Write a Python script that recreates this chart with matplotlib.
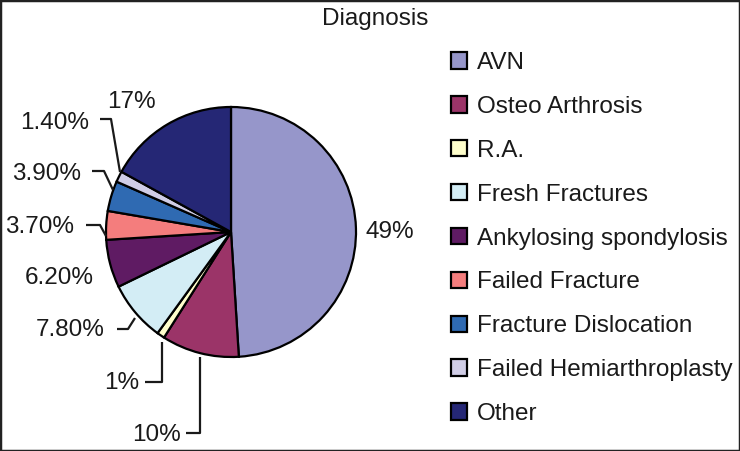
import matplotlib
matplotlib.use("Agg")
import matplotlib.pyplot as plt
from matplotlib.patches import Rectangle

plt.rcParams['font.family'] = ['Liberation Sans', 'DejaVu Sans']

title = "Diagnosis"
categories = ["AVN", "Osteo Arthrosis", "R.A.", "Fresh Fractures",
              "Ankylosing spondylosis", "Failed Fracture", "Fracture Dislocation",
              "Failed Hemiarthroplasty", "Other"]
values = [49, 10, 1, 7.8, 6.2, 3.7, 3.9, 1.4, 17]
value_labels = ["49%", "10%", "1%", "7.80%", "6.20%", "3.70%", "3.90%", "1.40%", "17%"]
colors = ["#9696CA", "#9B3468", "#FFFFCC", "#D3EDF5", "#5F1B63",
          "#F47D7D", "#2F6AB2", "#D0CDE6", "#252775"]

W, H = 740, 451
fig = plt.figure(figsize=(W / 100, H / 100), dpi=100)
ax = fig.add_axes([0, 0, 1, 1])

def py(y):
    return H - y

cx, cy, R = 231, 232, 125
wedges, _ = ax.pie(values, colors=colors, startangle=90, counterclock=False,
                   center=(cx, py(cy)), radius=R, frame=True,
                   wedgeprops=dict(edgecolor='black', linewidth=1.6))
ax.set_xlim(0, W)
ax.set_ylim(0, H)
ax.axis('off')

fs = 17.5
tc = '#1a1a1a'
# label placement: (text x, text y, ha, leader elbow points or None, end point or None)
label_layout = [
    (365, 232, 'left', None, None),
    (181, 435, 'right', [(186, 433), (200, 433)], (200, 357)),
    (139, 383, 'right', [(145, 382), (162, 382)], (162, 342)),
    (105, 330, 'right', [(117, 329), (128, 329)], (135, 318)),
    (94, 278, 'right', None, None),
    (74, 227, 'right', [(86, 225), (100, 225)], (106, 236)),
    (81, 174, 'right', [(92, 171), (104, 171)], (113, 190)),
    (89, 123, 'right', [(100, 119), (111, 119)], (120, 172)),
    (156, 102, 'right', None, None),
]
for lab, (tx, ty, ha, elbow, end) in zip(value_labels, label_layout):
    ax.text(tx, py(ty), lab, ha=ha, va='center', fontsize=fs, color=tc)
    if elbow is not None:
        xs = [p[0] for p in elbow] + [end[0]]
        ys = [py(p[1]) for p in elbow] + [py(end[1])]
        ax.plot(xs, ys, color=tc, lw=1.6, solid_capstyle='butt')

fig.text(375 / W, 1 - 19 / H, title, ha='center', va='center', fontsize=fs, color=tc)

leg = ax.legend(wedges, categories, loc='upper left',
                bbox_to_anchor=(451 / W, 1 - 52 / H), bbox_transform=fig.transFigure,
                frameon=False, fontsize=fs, handlelength=0.66, handleheight=0.66,
                handletextpad=0.42, labelspacing=0.90, borderpad=0, borderaxespad=0)
for t in leg.get_texts():
    t.set_color(tc)

fig.add_artist(Rectangle((0, 0), 1, 1, transform=fig.transFigure, fill=False,
                         edgecolor='#222222', linewidth=2.5))
fig.savefig("out.png", dpi=100)
